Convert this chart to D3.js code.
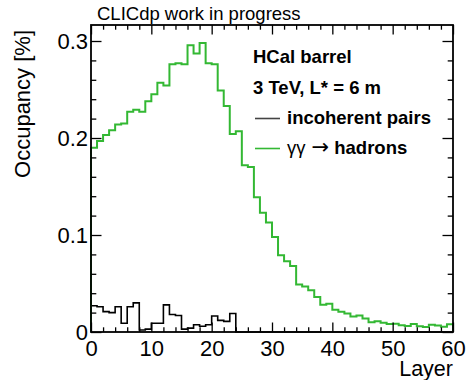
<!DOCTYPE html>
<html>
<head>
<meta charset="utf-8">
<script src="https://cdn.jsdelivr.net/npm/d3@7"></script>
<style>
  body { margin: 0; background: #fff; }
  svg { display: block; font-family: "Liberation Sans", Arial, Helvetica, sans-serif; }
  .axis path { display: none; }
  .axis line { stroke: #000; stroke-width: 1.3; }
  .axis text { font-size: 22px; fill: #000; }
</style>
</head>
<body>
<svg width="466" height="380"></svg>
<script>
// layer bins (low edge), width 1
const layers = d3.range(0, 60);

// gamma gamma -> hadrons occupancy [%]
const hadrons = [
  0.190, 0.197, 0.203, 0.208, 0.214, 0.215, 0.227, 0.229, 0.227, 0.238,
  0.245, 0.257, 0.254, 0.276, 0.277, 0.276, 0.2955, 0.287, 0.298, 0.277,
  0.276, 0.249, 0.233, 0.204, 0.207, 0.172, 0.170, 0.139, 0.123, 0.113,
  0.098, 0.079, 0.073, 0.068, 0.049, 0.047, 0.043, 0.036, 0.028, 0.029,
  0.023, 0.021, 0.019, 0.016, 0.017, 0.014, 0.010, 0.011, 0.0095, 0.0082,
  0.0085, 0.0069, 0.0062, 0.0082, 0.006, 0.0052, 0.0076, 0.0066, 0.0055, 0.0079
];

// incoherent pairs occupancy [%]
const pairs = [
  0.027, 0.026, 0.021, 0.020, 0.026, 0.009, 0.026, 0.030, 0.002, 0.003,
  0.009, 0.009, 0.028, 0.018, 0.017, 0.003, 0.004, 0.0075, 0.006, 0.0075,
  0.0165, 0.012, 0.011, 0.019, 0, 0, 0, 0, 0, 0,
  0, 0, 0, 0, 0, 0, 0, 0, 0, 0,
  0, 0, 0, 0, 0, 0, 0, 0, 0, 0,
  0, 0, 0, 0, 0, 0, 0, 0, 0, 0
];

const xMajor = [0, 10, 20, 30, 40, 50, 60];
const yMajor = [0, 0.1, 0.2, 0.3];
const legendLines = ["HCal barrel", "3 TeV, L* = 6 m"];

const padL = 91, padR = 453, padT = 25, padB = 332;
const green = "#33b833";

const svg = d3.select("svg");

const x = d3.scaleLinear().domain([0, 60]).range([padL, padR]);
const y = d3.scaleLinear().domain([0, 0.3165]).range([padB, padT]);

// histograms
function stepPoints(vals) {
  const pts = [[0, 0]];
  vals.forEach(function (v, i) { pts.push([layers[i], v]); });
  pts.push([60, vals[vals.length - 1]]);
  pts.push([60, 0]);
  return pts;
}
const line = d3.line()
  .x(function (d) { return x(d[0]); })
  .y(function (d) { return y(d[1]); })
  .curve(d3.curveStepAfter);

svg.append("path")
  .attr("d", line(stepPoints(pairs)))
  .attr("fill", "none")
  .attr("stroke", "#000")
  .attr("stroke-width", 1.6);

svg.append("path")
  .attr("d", line(stepPoints(hadrons)))
  .attr("fill", "none")
  .attr("stroke", green)
  .attr("stroke-width", 2);

// axes: major and minor ticks on all four sides
const xMinor = d3.range(0, 61, 2).filter(function (d) { return d % 10 !== 0; });
const yMinor = d3.range(0, 0.32, 0.02).filter(function (d) { return Math.abs(d * 10 - Math.round(d * 10)) > 1e-6; });

svg.append("g").attr("class", "axis")
  .attr("transform", "translate(0," + padB + ")")
  .call(d3.axisBottom(x).tickValues(xMajor).tickSize(-9.5).tickSizeOuter(0).tickPadding(8)
    .tickFormat(d3.format("d")));
svg.append("g").attr("class", "axis")
  .attr("transform", "translate(0," + padB + ")")
  .call(d3.axisBottom(x).tickValues(xMinor).tickSize(-4.7).tickSizeOuter(0).tickFormat(""));
svg.append("g").attr("class", "axis")
  .attr("transform", "translate(0," + padT + ")")
  .call(d3.axisTop(x).tickValues(xMajor).tickSize(-9.5).tickSizeOuter(0).tickFormat(""));
svg.append("g").attr("class", "axis")
  .attr("transform", "translate(0," + padT + ")")
  .call(d3.axisTop(x).tickValues(xMinor).tickSize(-4.7).tickSizeOuter(0).tickFormat(""));

svg.append("g").attr("class", "axis")
  .attr("transform", "translate(" + padL + ",0)")
  .call(d3.axisLeft(y).tickValues(yMajor).tickSize(-10.5).tickSizeOuter(0).tickPadding(3)
    .tickFormat(function (d) { return d === 0 ? "0" : d.toFixed(1); }));
svg.append("g").attr("class", "axis")
  .attr("transform", "translate(" + padL + ",0)")
  .call(d3.axisLeft(y).tickValues(yMinor).tickSize(-5.3).tickSizeOuter(0).tickFormat(""));
svg.append("g").attr("class", "axis")
  .attr("transform", "translate(" + padR + ",0)")
  .call(d3.axisRight(y).tickValues(yMajor).tickSize(-10.5).tickSizeOuter(0).tickFormat(""));
svg.append("g").attr("class", "axis")
  .attr("transform", "translate(" + padR + ",0)")
  .call(d3.axisRight(y).tickValues(yMinor).tickSize(-5.3).tickSizeOuter(0).tickFormat(""));

// frame
svg.append("rect")
  .attr("x", padL).attr("y", padT)
  .attr("width", padR - padL).attr("height", padB - padT)
  .attr("fill", "none").attr("stroke", "#000").attr("stroke-width", 1.8);

// titles
svg.append("text")
  .attr("x", 97).attr("y", 20)
  .attr("font-size", 18.5)
  .text("CLICdp work in progress");

svg.append("text")
  .attr("x", padR).attr("y", 376)
  .attr("text-anchor", "end")
  .attr("font-size", 21.5)
  .text("Layer");

svg.append("text")
  .attr("transform", "translate(30," + 30 + ") rotate(-90)")
  .attr("text-anchor", "end")
  .attr("font-size", 22)
  .text("Occupancy [%]");

// legend
legendLines.forEach(function (t, i) {
  svg.append("text")
    .attr("x", 253).attr("y", 63 + i * 31)
    .attr("font-size", 18.5).attr("font-weight", "bold")
    .text(t);
});

const legendItems = [
  { color: "#444", width: 1.6, label: "incoherent pairs" },
  { color: green, width: 1.6, label: "hadrons" }
];
legendItems.forEach(function (d, i) {
  const ly = 118.5 + i * 30;
  svg.append("line")
    .attr("x1", 255).attr("x2", 280)
    .attr("y1", ly).attr("y2", ly)
    .attr("stroke", d.color).attr("stroke-width", d.width);
  const t = svg.append("text")
    .attr("x", 287).attr("y", ly + 5.5)
    .attr("font-size", 18.5);
  if (i === 1) {
    t.append("tspan").text("γγ");
    t.append("tspan").attr("dx", 6).attr("font-family", "DejaVu Sans").attr("font-size", 21).text("→");
    t.append("tspan").text(" ");
  }
  t.append("tspan").attr("font-weight", "bold").text(d.label);
});
</script>
</body>
</html>
